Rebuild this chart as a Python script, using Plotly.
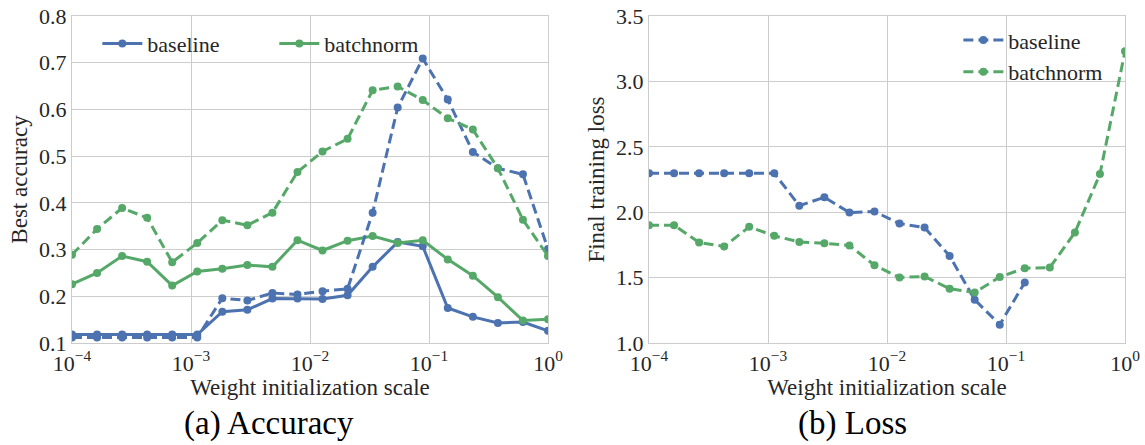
import plotly.graph_objects as go
from plotly.subplots import make_subplots

# Weight initialization scales (20 log-spaced values from 1e-4 to 1)
scales = [1.0e-4, 1.624e-4, 2.637e-4, 4.281e-4, 6.952e-4, 1.129e-3, 1.833e-3,
          2.976e-3, 4.833e-3, 7.848e-3, 1.274e-2, 2.069e-2, 3.360e-2, 5.456e-2,
          8.859e-2, 0.1438, 0.2336, 0.3793, 0.6158, 1.0]

# Best accuracy (solid and dashed curves per model)
acc_base_solid = [0.118, 0.118, 0.118, 0.118, 0.118, 0.118, 0.167, 0.171, 0.195, 0.195,
                  0.194, 0.202, 0.263, 0.316, 0.307, 0.175, 0.156, 0.143, 0.145, 0.126]
acc_base_dash = [0.112, 0.112, 0.112, 0.112, 0.112, 0.112, 0.196, 0.191, 0.207, 0.204,
                 0.211, 0.216, 0.379, 0.604, 0.709, 0.621, 0.509, 0.474, 0.461, 0.301]
acc_bn_solid = [0.226, 0.250, 0.286, 0.274, 0.223, 0.253, 0.259, 0.267, 0.263, 0.320,
                0.298, 0.319, 0.329, 0.314, 0.320, 0.279, 0.244, 0.198, 0.148, 0.151]
acc_bn_dash = [0.289, 0.344, 0.389, 0.368, 0.273, 0.314, 0.363, 0.352, 0.379, 0.466,
               0.510, 0.537, 0.641, 0.649, 0.620, 0.581, 0.557, 0.474, 0.364, 0.286]

# Final training loss (baseline diverges beyond 0.144)
loss_base = [2.297, 2.297, 2.297, 2.297, 2.297, 2.297, 2.050, 2.114, 1.997, 2.005,
             1.913, 1.883, 1.666, 1.331, 1.140, 1.463, None, None, None, None]
loss_bn = [1.900, 1.900, 1.768, 1.738, 1.888, 1.819, 1.773, 1.763, 1.745, 1.595,
           1.501, 1.509, 1.415, 1.387, 1.504, 1.572, 1.577, 1.844, 2.292, 3.230]

BLUE = "#4C72B0"
GREEN = "#55A868"
GRID = "#cccccc"
FONT = "Liberation Serif"
TXT = "#262626"
DASH = "10px,5px"

fig = make_subplots(rows=1, cols=2)


def add_line(y, color, dashed, name, col, legend, show):
    fig.add_trace(go.Scatter(
        x=scales, y=y, mode="lines+markers", name=name,
        line=dict(color=color, width=3, dash=DASH if dashed else "solid"),
        marker=dict(color=color, size=8),
        showlegend=show, legend=legend, connectgaps=False,
    ), row=1, col=col)


add_line(acc_base_solid, BLUE, False, "baseline", 1, "legend", True)
add_line(acc_bn_solid, GREEN, False, "batchnorm", 1, "legend", True)
add_line(acc_base_dash, BLUE, True, "baseline", 1, "legend", False)
add_line(acc_bn_dash, GREEN, True, "batchnorm", 1, "legend", False)
add_line(loss_base, BLUE, True, "baseline", 2, "legend2", True)
add_line(loss_bn, GREEN, True, "batchnorm", 2, "legend2", True)

xticks = [1e-4, 1e-3, 1e-2, 1e-1, 1]
xtext = ["10<sup>−4</sup>", "10<sup>−3</sup>", "10<sup>−2</sup>", "10<sup>−1</sup>", "10<sup>0</sup>"]

axis_common = dict(showgrid=True, gridcolor=GRID, gridwidth=1, showline=True,
                   linecolor=GRID, linewidth=1.2, mirror=True, zeroline=False,
                   ticks="", tickfont=dict(family=FONT, size=22, color=TXT))

fig.update_xaxes(type="log", range=[-4, 0], tickvals=xticks, ticktext=xtext,
                 title=dict(text="Weight initialization scale",
                            font=dict(family=FONT, size=23, color=TXT), standoff=0),
                 **axis_common)
fig.update_xaxes(domain=[72 / 1145, 548 / 1145], row=1, col=1)
fig.update_xaxes(domain=[649 / 1145, 1125 / 1145], row=1, col=2)

fig.update_yaxes(range=[0.1, 0.8], dtick=0.1, tickformat=".1f",
                 title=dict(text="Best accuracy",
                            font=dict(family=FONT, size=23, color=TXT), standoff=4),
                 row=1, col=1, **axis_common)
fig.update_yaxes(range=[1.0, 3.5], dtick=0.5, tickformat=".1f",
                 title=dict(text="Final training loss",
                            font=dict(family=FONT, size=23, color=TXT), standoff=4),
                 row=1, col=2, **axis_common)

fig.update_layout(
    template="none",
    width=1145, height=445,
    margin=dict(l=0, r=0, t=16, b=102),
    paper_bgcolor="white", plot_bgcolor="white",
    font=dict(family=FONT, size=22, color=TXT),
    legend=dict(orientation="h", x=0.085, y=0.915, xanchor="left", yanchor="middle",
                bgcolor="rgba(0,0,0,0)", font=dict(family=FONT, size=22, color=TXT),
                entrywidth=122, itemwidth=40),
    legend2=dict(orientation="v", x=0.968, y=0.99, xanchor="right", yanchor="top",
                 bgcolor="rgba(0,0,0,0)", font=dict(family=FONT, size=22, color=TXT),
                 itemwidth=40, tracegroupgap=0),
    annotations=[
        dict(text="(a) Accuracy", x=269 / 1145, y=-0.31, xref="paper", yref="paper",
             xanchor="center", yanchor="bottom", showarrow=False,
             font=dict(family=FONT, size=33, color="black")),
        dict(text="(b) Loss", x=852 / 1145, y=-0.31, xref="paper", yref="paper",
             xanchor="center", yanchor="bottom", showarrow=False,
             font=dict(family=FONT, size=33, color="black")),
    ],
)

fig.write_html("out.html")
